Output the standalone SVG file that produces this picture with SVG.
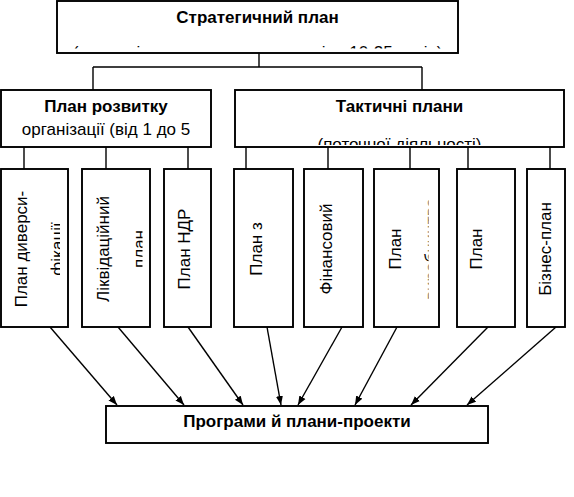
<svg xmlns="http://www.w3.org/2000/svg" width="574" height="497" viewBox="0 0 574 497">
<style>
.box{fill:#fff;stroke:#000;stroke-width:1.9}
.ln{fill:none;stroke:#000;stroke-width:1.4}
.t{font-family:"Liberation Sans",Arial,sans-serif;font-size:17px;fill:#000;text-anchor:middle}
.b{font-weight:bold}
</style>
<defs>
<marker id="ah" markerWidth="10" markerHeight="8" refX="9" refY="4" orient="auto" markerUnits="userSpaceOnUse">
<path d="M0,0.5 L9,4 L0,7.5 Z" fill="#000"/>
</marker>
<clipPath id="cTop"><rect x="57" y="1" width="401" height="47.5"/></clipPath>
<clipPath id="cTact"><rect x="235" y="90" width="329" height="55"/></clipPath>
<clipPath id="cB1"><rect x="1" y="169" width="59" height="158"/></clipPath>
<clipPath id="cB2"><rect x="82" y="169" width="60.5" height="158"/></clipPath>
<clipPath id="cB6"><rect x="374" y="169" width="54.5" height="158"/></clipPath>
</defs>
<rect width="574" height="497" fill="#fff"/>
<g id="connectors">
<path class="ln" d="M259,53 V67 M93,67 H422 M93,67 V90 M422,67 V90"/>
<path class="ln" d="M24,147 V169 M106,147 V169 M188,147 V169"/>
<path class="ln" d="M246,147 V169 M328,147 V169 M410,147 V169 M468,147 V169 M550,147 V169"/>
<g class="ln" marker-end="url(#ah)">
<line x1="50" y1="327" x2="117" y2="405"/>
<line x1="118" y1="327" x2="184" y2="405"/>
<line x1="188" y1="327" x2="243" y2="405"/>
<line x1="267" y1="327" x2="281" y2="405"/>
<line x1="342" y1="327" x2="298" y2="405"/>
<line x1="397" y1="327" x2="355" y2="405"/>
<line x1="488" y1="327" x2="411" y2="405"/>
<line x1="556" y1="327" x2="467" y2="405"/>
</g>
</g>
<g id="strategic">
<rect class="box" x="57" y="1" width="401" height="52"/>
<text class="t b" x="257.5" y="22.5">Стратегичний план</text>
<g clip-path="url(#cTop)"><text class="t" x="257.5" y="58">(стратегічне планування на період 10-25 років)</text></g>
</g>
<g id="development">
<rect class="box" x="1" y="90" width="210" height="57"/>
<text class="t b" x="106" y="111.5">План розвитку</text>
<text class="t" x="106" y="135">організації (від 1 до 5</text>
</g>
<g id="tactical">
<rect class="box" x="235" y="90" width="329" height="57"/>
<text class="t b" x="399.5" y="111.5">Тактичні плани</text>
<g clip-path="url(#cTact)"><text class="t" x="399.5" y="149.5">(поточної діяльності)</text></g>
</g>
<g id="diversification">
<rect class="box" x="1" y="169" width="67" height="158"/>
<text class="t" transform="translate(27,249) rotate(-90)">План диверси-</text>
<g clip-path="url(#cB1)"><text class="t" transform="translate(62.5,249) rotate(-90)">фікації</text></g>
</g>
<g id="liquidation">
<rect class="box" x="82" y="169" width="68" height="158"/>
<text class="t" transform="translate(109,249) rotate(-90)">Ліквідаційний</text>
<g clip-path="url(#cB2)"><text class="t" transform="translate(144.5,249) rotate(-90)">план</text></g>
</g>
<g id="rnd">
<rect class="box" x="164" y="169" width="47" height="158"/>
<text class="t" transform="translate(190,249) rotate(-90)">План НДР</text>
</g>
<g id="plan-z">
<rect class="box" x="234" y="169" width="59" height="158"/>
<text class="t" transform="translate(261.5,249) rotate(-90)">План з</text>
</g>
<g id="financial">
<rect class="box" x="304" y="169" width="59" height="158"/>
<text class="t" transform="translate(332,249) rotate(-90)">Фінансовий</text>
</g>
<g id="production">
<rect class="box" x="374" y="169" width="65" height="158"/>
<text class="t" transform="translate(400.5,249) rotate(-90)">План</text>
<g clip-path="url(#cB6)"><text class="t" transform="translate(437,249) rotate(-90)">виробництва</text></g>
</g>
<g id="plan7">
<rect class="box" x="457" y="169" width="58" height="158"/>
<text class="t" transform="translate(482,249) rotate(-90)">План</text>
</g>
<g id="business">
<rect class="box" x="527" y="169" width="38" height="158"/>
<text class="t" transform="translate(551,249) rotate(-90)">Бізнес-план</text>
</g>
<g id="programs">
<rect class="box" x="106" y="406" width="382" height="37"/>
<text class="t b" x="297" y="427">Програми й плани-проекти</text>
</g>
</svg>
